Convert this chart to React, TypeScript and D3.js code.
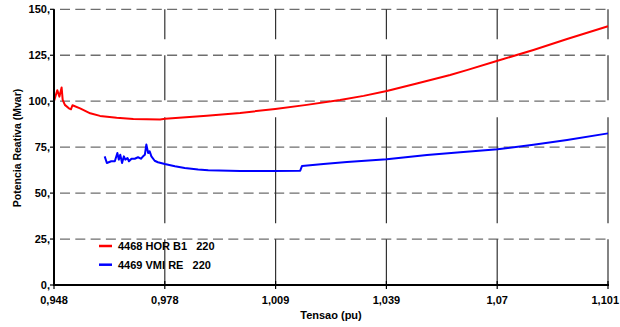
import { useRef, useEffect } from 'react';
import * as d3 from 'd3';

const X_TICKS = [0.948, 0.9786, 1.0092, 1.0398, 1.0704, 1.101];
const X_TICK_LABELS = ['0,948', '0,978', '1,009', '1,039', '1,07', '1,101'];
const Y_TICKS = [0, 25, 50, 75, 100, 125, 150];
const Y_TICK_LABELS = ['0,', '25,', '50,', '75,', '100,', '125,', '150,'];

// 4468 HOR B1 220
const HOR_TENSAO = [
  0.948, 0.9489, 0.9495, 0.9501, 0.9504, 0.951, 0.9521, 0.9527, 0.9531, 0.9552,
  0.958, 0.9607, 0.9653, 0.9699, 0.9773, 0.9787, 0.9902, 0.9994, 1.0091, 1.0178,
  1.027, 1.0335, 1.0399, 1.0482, 1.0574, 1.062, 1.0705, 1.0804, 1.0897, 1.101,
];
const HOR_MVAR = [
  100, 106, 102.5, 107.5, 100.7, 98, 96.1, 95.6, 97.8, 96.1,
  93.4, 92, 91, 90.3, 90, 90.4, 92.1, 93.6, 95.8, 98,
  100.7, 102.9, 105.5, 109.6, 114.3, 116.9, 122, 127.9, 133.8, 140.8,
];

// 4469 VMI RE 220
const VMI_TENSAO = [
  0.962, 0.9626, 0.9638, 0.9648, 0.9655, 0.9659, 0.9663, 0.9668, 0.9673, 0.9677,
  0.9683, 0.9687, 0.9694, 0.9703, 0.9712, 0.972, 0.9726, 0.9731, 0.9735, 0.974,
  0.9744, 0.9749, 0.9758, 0.9767, 0.9786, 0.9814, 0.9841, 0.9878, 0.9906, 0.9994,
  1.0086, 1.016, 1.0165, 1.0224, 1.0289, 1.0399, 1.051, 1.0602, 1.0705, 1.0804,
  1.0897, 1.101,
];
const VMI_MVAR = [
  70, 66.4, 67.3, 67.3, 71.8, 68.2, 70.9, 66.4, 70, 68.2,
  69.1, 67.3, 68.7, 68.7, 69.5, 68.7, 70, 70.9, 76.4, 71.8,
  72.8, 70, 67.6, 66.8, 65.8, 64.6, 63.7, 62.8, 62.4, 62,
  62, 62.2, 64.8, 65.8, 66.9, 68.4, 70.7, 72.2, 73.9, 76.3,
  78.9, 82.5,
];

const SERIES = [
  { name: '4468 HOR B1   220', color: '#ff0000', xs: HOR_TENSAO, ys: HOR_MVAR },
  { name: '4469 VMI RE   220', color: '#0000ff', xs: VMI_TENSAO, ys: VMI_MVAR },
];

const W = 620;
const H = 327;
const FONT = '"Liberation Sans", Arial, sans-serif';

export default function App() {
  const svgRef = useRef<SVGSVGElement>(null);

  useEffect(() => {
    const svg = d3.select(svgRef.current);
    svg.selectAll('*').remove();

    const x = d3.scaleLinear().domain([0.948, 1.101]).range([54, 608]);
    const y = d3.scaleLinear().domain([0, 150]).range([285, 9.3]);

    // horizontal grid (short dashes)
    svg.append('g')
      .selectAll('line')
      .data(Y_TICKS.filter((d) => d > 0))
      .join('line')
      .attr('x1', x(0.948))
      .attr('x2', x(1.101))
      .attr('y1', (d) => y(d))
      .attr('y2', (d) => y(d))
      .attr('stroke', '#6e6e6e')
      .attr('stroke-width', 1.3)
      .attr('stroke-dasharray', '10,5.3')
      .attr('stroke-dashoffset', -6);

    // vertical grid (long dashes)
    svg.append('g')
      .selectAll('line')
      .data(X_TICKS.slice(1))
      .join('line')
      .attr('x1', (d) => x(d))
      .attr('x2', (d) => x(d))
      .attr('y1', y(150))
      .attr('y2', y(0))
      .attr('stroke', '#333')
      .attr('stroke-width', 1.2)
      .attr('stroke-dasharray', '30,16,45,17,106,16,50');

    // series
    const line = d3.line<[number, number]>()
      .x((d) => x(d[0]))
      .y((d) => y(d[1]));

    SERIES.forEach((s) => {
      const pts = s.xs.map((v, i) => [v, s.ys[i]] as [number, number]);
      svg.append('path')
        .attr('d', line(pts))
        .attr('fill', 'none')
        .attr('stroke', s.color)
        .attr('stroke-width', 2)
        .attr('stroke-linejoin', 'round');
    });

    // axes
    svg.append('line')
      .attr('x1', x(0.948)).attr('x2', x(0.948))
      .attr('y1', y(150)).attr('y2', y(0) + 1)
      .attr('stroke', '#000').attr('stroke-width', 2);
    svg.append('line')
      .attr('x1', x(0.948) - 1).attr('x2', x(1.101) + 1)
      .attr('y1', y(0)).attr('y2', y(0))
      .attr('stroke', '#000').attr('stroke-width', 2);

    // y ticks + labels
    const yt = svg.append('g');
    yt.selectAll('line')
      .data(Y_TICKS)
      .join('line')
      .attr('x1', x(0.948) - 4)
      .attr('x2', x(0.948))
      .attr('y1', (d) => y(d))
      .attr('y2', (d) => y(d))
      .attr('stroke', '#000')
      .attr('stroke-width', 1.2);
    yt.selectAll('text')
      .data(Y_TICKS)
      .join('text')
      .attr('x', 50)
      .attr('y', (d) => y(d) + 4)
      .attr('text-anchor', 'end')
      .attr('font-family', FONT)
      .attr('font-weight', 'bold')
      .attr('font-size', 11)
      .text((_, i) => Y_TICK_LABELS[i]);

    // x ticks + labels
    const xt = svg.append('g');
    xt.selectAll('line')
      .data(X_TICKS)
      .join('line')
      .attr('x1', (d) => x(d))
      .attr('x2', (d) => x(d))
      .attr('y1', y(0) - 4)
      .attr('y2', y(0) + 4)
      .attr('stroke', '#000')
      .attr('stroke-width', 1.2);
    xt.selectAll('text')
      .data(X_TICKS)
      .join('text')
      // last label kept inside the window
      .attr('x', (d, i) => (i === X_TICKS.length - 1 ? 619 : x(d)))
      .attr('y', 304)
      .attr('text-anchor', (_, i) => (i === X_TICKS.length - 1 ? 'end' : 'middle'))
      .attr('font-family', FONT)
      .attr('font-weight', 'bold')
      .attr('font-size', 11)
      .text((_, i) => X_TICK_LABELS[i]);

    // axis titles
    svg.append('text')
      .attr('x', 331)
      .attr('y', 319)
      .attr('text-anchor', 'middle')
      .attr('font-family', FONT)
      .attr('font-weight', 'bold')
      .attr('font-size', 11)
      .text('Tensao (pu)');

    svg.append('text')
      .attr('transform', 'translate(21,148) rotate(-90)')
      .attr('text-anchor', 'middle')
      .attr('font-family', FONT)
      .attr('font-weight', 'bold')
      .attr('font-size', 10.5)
      .text('Potencia Reativa (Mvar)');

    // legend
    const lg = svg.append('g');
    SERIES.forEach((s, i) => {
      const ly = 246 + i * 18.7;
      lg.append('line')
        .attr('x1', 99).attr('x2', 112)
        .attr('y1', ly).attr('y2', ly)
        .attr('stroke', s.color)
        .attr('stroke-width', 2.5);
      lg.append('text')
        .attr('x', 118)
        .attr('y', ly + 4)
        .attr('font-family', FONT)
        .attr('font-weight', 'bold')
        .attr('font-size', 11)
        .attr('xml:space', 'preserve')
        .style('white-space', 'pre')
        .text(s.name);
    });
  }, []);

  return (
    <svg
      ref={svgRef}
      width={W}
      height={H}
      style={{ position: 'absolute', left: 0, top: 0, background: '#fff' }}
    />
  );
}
